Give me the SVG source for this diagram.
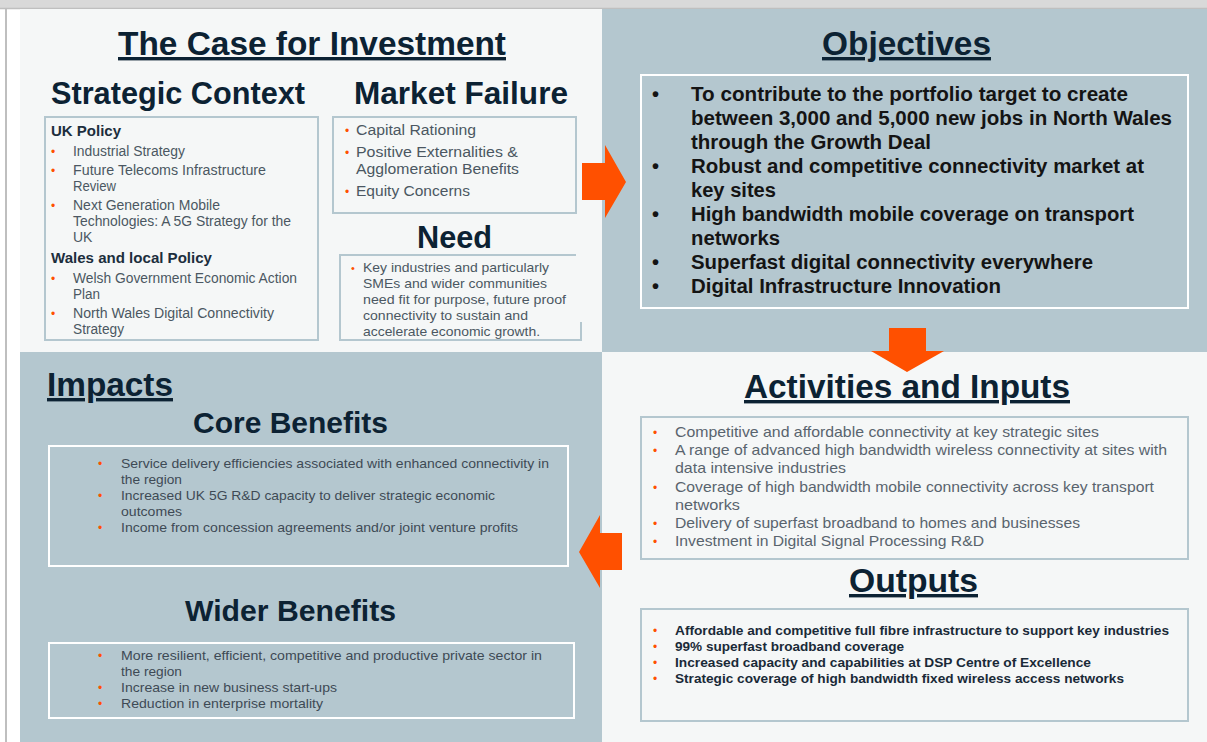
<svg xmlns="http://www.w3.org/2000/svg" width="1207" height="742" viewBox="0 0 1207 742">
<style>
text { font-family: "Liberation Sans", Arial, sans-serif; }
.h1 { font-size: 34px; font-weight: bold; fill: #0c2233; text-decoration: underline; }
.h2 { font-size: 31px; font-weight: bold; fill: #0c2233; }
.h3 { font-size: 30px; font-weight: bold; fill: #0c2233; }
.sub { font-size: 15.5px; font-weight: bold; fill: #1c2e3d; }
.t14 { font-size: 14px; fill: #4b5762; }
.t15 { font-size: 15.5px; fill: #4b5762; }
.t13 { font-size: 13.5px; fill: #4b5762; }
.tg { font-size: 13.5px; fill: #3e4a55; }
.ta { font-size: 15px; fill: #59646e; }
.tob { font-size: 20px; font-weight: bold; fill: #141414; }
.tout { font-size: 13.5px; font-weight: bold; fill: #1a2a38; }
.ob { font-size: 12px; fill: #ff5000; }
.kb { font-size: 20px; font-weight: bold; fill: #141414; }
.boxl { fill: none; stroke: #b4c7cf; stroke-width: 2; }
.boxw { fill: none; stroke: #ffffff; stroke-width: 2; }
.arrow { fill: #ff5000; }
</style>

<g id="frame">
  <rect x="0" y="0" width="1207" height="742" fill="#ffffff"/>
  <rect x="0" y="0" width="1207" height="8" fill="#d9d9d9"/>
  <line x1="0" y1="8.5" x2="1207" y2="8.5" stroke="#bfbfbf" stroke-width="1.5"/>
  <line x1="6" y1="8" x2="6" y2="742" stroke="#bfbfbf" stroke-width="2"/>
  <rect x="20" y="9" width="582" height="343" fill="#f5f7f7"/>
  <rect x="602" y="9" width="605" height="343" fill="#b4c7cf"/>
  <rect x="20" y="352" width="582" height="390" fill="#b4c7cf"/>
  <rect x="602" y="352" width="605" height="390" fill="#f5f7f7"/>
</g>

<g id="case-for-investment">
  <text class="h1" x="118" y="55" textLength="388" lengthAdjust="spacingAndGlyphs">The Case for Investment</text>
</g>

<g id="strategic-context">
  <text class="h2" x="51" y="104" textLength="254" lengthAdjust="spacingAndGlyphs">Strategic Context</text>
  <rect class="boxl" x="45" y="117" width="273" height="223"/>
  <text class="sub" x="51" y="136" textLength="70" lengthAdjust="spacingAndGlyphs">UK Policy</text>
  <text class="ob" x="51" y="156">•</text>
  <text class="t14" x="73" y="156" textLength="112" lengthAdjust="spacingAndGlyphs">Industrial Strategy</text>
  <text class="ob" x="51" y="175">•</text>
  <text class="t14" x="73" y="175" textLength="193" lengthAdjust="spacingAndGlyphs">Future Telecoms Infrastructure</text>
  <text class="t14" x="73" y="191" textLength="43" lengthAdjust="spacingAndGlyphs">Review</text>
  <text class="ob" x="51" y="210">•</text>
  <text class="t14" x="73" y="210" textLength="147" lengthAdjust="spacingAndGlyphs">Next Generation Mobile</text>
  <text class="t14" x="73" y="226" textLength="218" lengthAdjust="spacingAndGlyphs">Technologies: A 5G Strategy for the</text>
  <text class="t14" x="73" y="242">UK</text>
  <text class="sub" x="51" y="263" textLength="161" lengthAdjust="spacingAndGlyphs">Wales and local Policy</text>
  <text class="ob" x="51" y="283">•</text>
  <text class="t14" x="73" y="283" textLength="224" lengthAdjust="spacingAndGlyphs">Welsh Government Economic Action</text>
  <text class="t14" x="73" y="299" textLength="27" lengthAdjust="spacingAndGlyphs">Plan</text>
  <text class="ob" x="51" y="318">•</text>
  <text class="t14" x="73" y="318" textLength="201" lengthAdjust="spacingAndGlyphs">North Wales Digital Connectivity</text>
  <text class="t14" x="73" y="334" textLength="51" lengthAdjust="spacingAndGlyphs">Strategy</text>
</g>

<g id="market-failure">
  <text class="h2" x="354" y="104" textLength="214" lengthAdjust="spacingAndGlyphs">Market Failure</text>
  <rect class="boxl" x="333" y="117" width="243" height="96"/>
  <text class="ob" x="345" y="135">•</text>
  <text class="t15" x="356" y="135" textLength="120" lengthAdjust="spacingAndGlyphs">Capital Rationing</text>
  <text class="ob" x="345" y="157">•</text>
  <text class="t15" x="356" y="157" textLength="162" lengthAdjust="spacingAndGlyphs">Positive Externalities &amp;</text>
  <text class="t15" x="356" y="174" textLength="163" lengthAdjust="spacingAndGlyphs">Agglomeration Benefits</text>
  <text class="ob" x="345" y="196">•</text>
  <text class="t15" x="356" y="196" textLength="114" lengthAdjust="spacingAndGlyphs">Equity Concerns</text>
</g>

<g id="need">
  <text class="h2" x="417" y="248" textLength="75" lengthAdjust="spacingAndGlyphs">Need</text>
  <path class="boxl" d="M576 255 H340 V340 H581 V322"/>
  <text class="ob" x="351" y="272" style="font-size:11px">•</text>
  <text class="t13" x="363" y="272" textLength="186" lengthAdjust="spacingAndGlyphs">Key industries and particularly</text>
  <text class="t13" x="363" y="288" textLength="184" lengthAdjust="spacingAndGlyphs">SMEs and wider communities</text>
  <text class="t13" x="363" y="304" textLength="203" lengthAdjust="spacingAndGlyphs">need fit for purpose, future proof</text>
  <text class="t13" x="363" y="320" textLength="165" lengthAdjust="spacingAndGlyphs">connectivity to sustain and</text>
  <text class="t13" x="363" y="336" textLength="177" lengthAdjust="spacingAndGlyphs">accelerate economic growth.</text>
</g>

<g id="objectives">
  <text class="h1" x="822" y="55" textLength="169" lengthAdjust="spacingAndGlyphs">Objectives</text>
  <rect class="boxw" x="641" y="75" width="547" height="233"/>
  <text class="kb" x="652" y="101">•</text>
  <text class="tob" x="691" y="101" textLength="437" lengthAdjust="spacingAndGlyphs">To contribute to the portfolio target to create</text>
  <text class="tob" x="691" y="125" textLength="481" lengthAdjust="spacingAndGlyphs">between 3,000 and 5,000 new jobs in North Wales</text>
  <text class="tob" x="691" y="149" textLength="240" lengthAdjust="spacingAndGlyphs">through the Growth Deal</text>
  <text class="kb" x="652" y="173">•</text>
  <text class="tob" x="691" y="173" textLength="453" lengthAdjust="spacingAndGlyphs">Robust and competitive connectivity market at</text>
  <text class="tob" x="691" y="197" textLength="85" lengthAdjust="spacingAndGlyphs">key sites</text>
  <text class="kb" x="652" y="221">•</text>
  <text class="tob" x="691" y="221" textLength="443" lengthAdjust="spacingAndGlyphs">High bandwidth mobile coverage on transport</text>
  <text class="tob" x="691" y="245" textLength="89" lengthAdjust="spacingAndGlyphs">networks</text>
  <text class="kb" x="652" y="269">•</text>
  <text class="tob" x="691" y="269" textLength="402" lengthAdjust="spacingAndGlyphs">Superfast digital connectivity everywhere</text>
  <text class="kb" x="652" y="293">•</text>
  <text class="tob" x="691" y="293" textLength="310" lengthAdjust="spacingAndGlyphs">Digital Infrastructure Innovation</text>
</g>

<g id="activities-inputs">
  <text class="h1" x="744" y="398" textLength="326" lengthAdjust="spacingAndGlyphs">Activities and Inputs</text>
  <rect class="boxl" x="641" y="417" width="547" height="142"/>
  <text class="ob" x="653" y="437">•</text>
  <text class="ta" x="675" y="437" textLength="424" lengthAdjust="spacingAndGlyphs">Competitive and affordable connectivity at key strategic sites</text>
  <text class="ob" x="653" y="455">•</text>
  <text class="ta" x="675" y="455" textLength="492" lengthAdjust="spacingAndGlyphs">A range of advanced high bandwidth wireless connectivity at sites with</text>
  <text class="ta" x="675" y="473" textLength="171" lengthAdjust="spacingAndGlyphs">data intensive industries</text>
  <text class="ob" x="653" y="492">•</text>
  <text class="ta" x="675" y="492" textLength="479" lengthAdjust="spacingAndGlyphs">Coverage of high bandwidth mobile connectivity across key transport</text>
  <text class="ta" x="675" y="510" textLength="65" lengthAdjust="spacingAndGlyphs">networks</text>
  <text class="ob" x="653" y="528">•</text>
  <text class="ta" x="675" y="528" textLength="405" lengthAdjust="spacingAndGlyphs">Delivery of superfast broadband to homes and businesses</text>
  <text class="ob" x="653" y="546">•</text>
  <text class="ta" x="675" y="546" textLength="309" lengthAdjust="spacingAndGlyphs">Investment in Digital Signal Processing R&amp;D</text>
</g>

<g id="outputs">
  <text class="h1" x="849" y="592" textLength="129" lengthAdjust="spacingAndGlyphs">Outputs</text>
  <rect class="boxl" x="641" y="609" width="547" height="112"/>
  <text class="ob" x="653" y="635">•</text>
  <text class="tout" x="675" y="635" textLength="494" lengthAdjust="spacingAndGlyphs">Affordable and competitive full fibre infrastructure to support key industries</text>
  <text class="ob" x="653" y="651">•</text>
  <text class="tout" x="675" y="651" textLength="229" lengthAdjust="spacingAndGlyphs">99% superfast broadband coverage</text>
  <text class="ob" x="653" y="667">•</text>
  <text class="tout" x="675" y="667" textLength="416" lengthAdjust="spacingAndGlyphs">Increased capacity and capabilities at DSP Centre of Excellence</text>
  <text class="ob" x="653" y="683">•</text>
  <text class="tout" x="675" y="683" textLength="449" lengthAdjust="spacingAndGlyphs">Strategic coverage of high bandwidth fixed wireless access networks</text>
</g>

<g id="impacts">
  <text class="h1" x="47" y="396" textLength="126" lengthAdjust="spacingAndGlyphs">Impacts</text>
</g>

<g id="core-benefits">
  <text class="h3" x="193" y="433" textLength="195" lengthAdjust="spacingAndGlyphs">Core Benefits</text>
  <rect class="boxw" x="49" y="446" width="519" height="120"/>
  <text class="ob" x="98" y="468">•</text>
  <text class="tg" x="121" y="468" textLength="428" lengthAdjust="spacingAndGlyphs">Service delivery efficiencies associated with enhanced connectivity in</text>
  <text class="tg" x="121" y="484" textLength="61" lengthAdjust="spacingAndGlyphs">the region</text>
  <text class="ob" x="98" y="500">•</text>
  <text class="tg" x="121" y="500" textLength="374" lengthAdjust="spacingAndGlyphs">Increased UK 5G R&amp;D capacity to deliver strategic economic</text>
  <text class="tg" x="121" y="516" textLength="61" lengthAdjust="spacingAndGlyphs">outcomes</text>
  <text class="ob" x="98" y="532">•</text>
  <text class="tg" x="121" y="532" textLength="397" lengthAdjust="spacingAndGlyphs">Income from concession agreements and/or joint venture profits</text>
</g>

<g id="wider-benefits">
  <text class="h3" x="185" y="621" textLength="211" lengthAdjust="spacingAndGlyphs">Wider Benefits</text>
  <rect class="boxw" x="49" y="643" width="525" height="75"/>
  <text class="ob" x="98" y="660">•</text>
  <text class="tg" x="121" y="660" textLength="421" lengthAdjust="spacingAndGlyphs">More resilient, efficient, competitive and productive private sector in</text>
  <text class="tg" x="121" y="676" textLength="61" lengthAdjust="spacingAndGlyphs">the region</text>
  <text class="ob" x="98" y="692">•</text>
  <text class="tg" x="121" y="692" textLength="216" lengthAdjust="spacingAndGlyphs">Increase in new business start-ups</text>
  <text class="ob" x="98" y="708">•</text>
  <text class="tg" x="121" y="708" textLength="202" lengthAdjust="spacingAndGlyphs">Reduction in enterprise mortality</text>
</g>

<g id="connectors">
  <polygon class="arrow" points="582,163 605,163 605,145 626,182 605,218 605,200 582,200"/>
  <polygon class="arrow" points="889,328 926,328 926,351 944,351 907,372 871,351 889,351"/>
  <polygon class="arrow" points="622,533 600,533 600,515 579,552 600,588 600,570 622,570"/>
</g>
</svg>
